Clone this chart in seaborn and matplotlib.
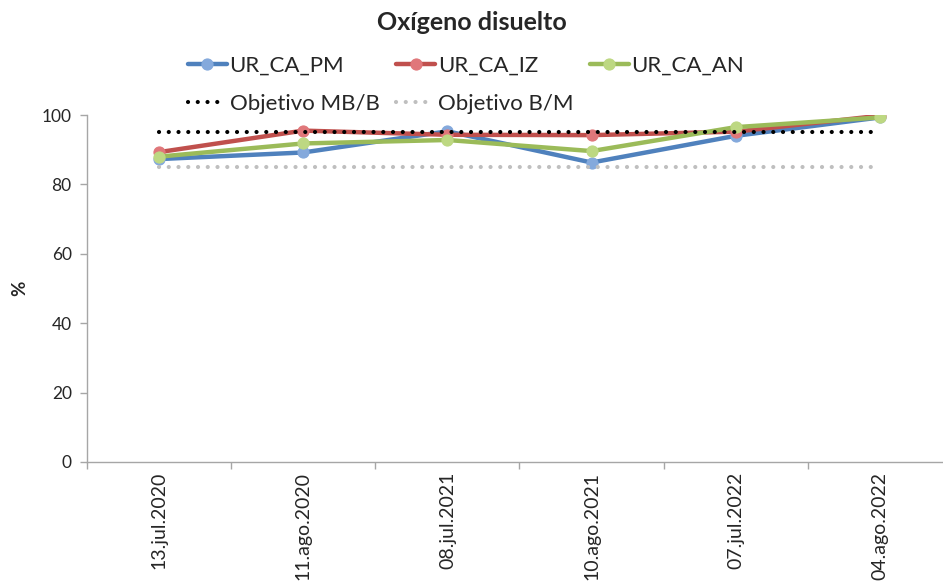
import matplotlib
matplotlib.use("Agg")
import matplotlib.pyplot as plt
import seaborn as sns
import pandas as pd
from matplotlib.ticker import FixedLocator

dates = ["13.jul.2020", "11.ago.2020", "08.jul.2021", "10.ago.2021", "07.jul.2022", "04.ago.2022"]
ur_ca_pm = [87.3, 89.2, 95.3, 86.3, 94.0, 99.3]
ur_ca_iz = [89.3, 95.5, 94.3, 94.2, 95.2, 99.8]
ur_ca_an = [88.0, 91.8, 92.8, 89.6, 96.5, 99.3]
obj_mb_b = [95, 95, 95, 95, 95, 95]
obj_b_m = [85, 85, 85, 85, 85, 85]

sns.set_theme(style="white")
plt.rcParams["font.family"] = ["Lato", "DejaVu Sans"]

fig = plt.figure(figsize=(9.43, 5.85), dpi=100)
ax = fig.add_axes([87 / 943, 1 - 462 / 585, (952 - 87) / 943, (462 - 115) / 585])

x = list(range(len(dates)))
series = [
    ("UR_CA_PM", ur_ca_pm, "#4F81BD", "#84A9DC"),
    ("UR_CA_IZ", ur_ca_iz, "#C0504D", "#E0777A"),
    ("UR_CA_AN", ur_ca_an, "#9BBB59", "#BDD882"),
]
handles = {}
for name, vals, col, mcol in series:
    df = pd.DataFrame({"x": x, "y": vals})
    sns.lineplot(data=df, x="x", y="y", ax=ax, color=col, linewidth=3.2,
                 marker="o", markersize=8, markerfacecolor=mcol,
                 markeredgecolor=mcol, markeredgewidth=0.8, label=name,
                 legend=False, zorder=2)
    handles[name] = ax.lines[-1]

for name, vals, col in [("Objetivo MB/B", obj_mb_b, "black"), ("Objetivo B/M", obj_b_m, "#BFBFBF")]:
    df = pd.DataFrame({"x": x, "y": vals})
    sns.lineplot(data=df, x="x", y="y", ax=ax, color=col, linewidth=3.0,
                 label=name, legend=False, zorder=3)
    ln = ax.lines[-1]
    ln.set_linestyle((0, (0.01, 2.33)))
    ln.set_dash_capstyle("round")
    handles[name] = ln

ax.set_xlim(-0.5, len(dates) - 0.5)
ax.set_ylim(0, 100)
ax.set_yticks([0, 20, 40, 60, 80, 100])
ax.set_xticks(x)
ax.set_xticklabels(dates, rotation=90, fontsize=14)
ax.xaxis.set_minor_locator(FixedLocator([i - 0.5 for i in range(len(dates) + 1)]))
ax.tick_params(axis="x", which="major", length=0, pad=7)
ax.tick_params(axis="x", which="minor", length=5, width=1, color="#A6A6A6", direction="out", bottom=True)
ax.tick_params(axis="y", which="major", length=5, width=1, color="#A6A6A6", direction="out", left=True, labelsize=12.5, pad=6)
for s in ["top", "right"]:
    ax.spines[s].set_visible(False)
for s in ["left", "bottom"]:
    ax.spines[s].set_color("#A6A6A6")
    ax.spines[s].set_linewidth(1)
ax.set_xlabel("")
ax.set_ylabel("%", fontsize=13.5, fontweight="bold", labelpad=10)

fig.text(0.5, 1 - 22 / 585, "Oxígeno disuelto", ha="center", va="center",
         fontsize=18, fontweight="bold")

order = ["UR_CA_PM", "Objetivo MB/B", "UR_CA_IZ", "Objetivo B/M", "UR_CA_AN"]
leg = fig.legend([handles[k] for k in order], order, ncol=3, loc="upper left",
                 bbox_to_anchor=(188 / 943, 1 - 56 / 585), frameon=False,
                 fontsize=16, handlelength=1.75, handletextpad=0.12,
                 columnspacing=0.75, labelspacing=0.8, numpoints=1,
                 borderaxespad=0, borderpad=0)

fig.savefig("out.png", dpi=100)
